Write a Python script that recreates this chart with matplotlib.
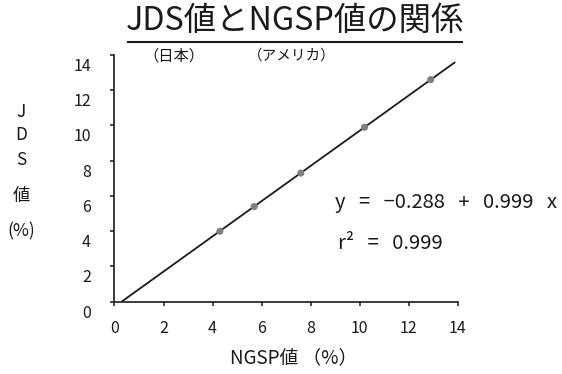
import matplotlib
matplotlib.use("Agg")
from matplotlib import pyplot as plt
from matplotlib.lines import Line2D
from matplotlib.transforms import ScaledTranslation

plt.rcParams["font.family"] = ["Noto Sans CJK JP", "DejaVu Sans"]

# NGSP (x) vs JDS (y), in %
ngsp = [4.3, 5.7, 7.6, 10.2, 12.9]
jds = [4.0, 5.4, 7.3, 9.9, 12.6]

# regression y = a + b x
intercept = -0.288
slope = 0.999
r2 = 0.999
fit_x_end = 13.9

ticks = [0, 2, 4, 6, 8, 10, 12, 14]
ink = "#1a1a1a"

fig = plt.figure(figsize=(5.62, 3.74), dpi=100)
ax = fig.add_axes([0.2037, 0.1933, 0.6107, 0.6597])

x0 = -intercept / slope
ax.plot([x0, fit_x_end], [intercept + slope * x0, intercept + slope * fit_x_end],
        color=ink, lw=1.3, solid_capstyle="butt", zorder=2)
ax.scatter(ngsp, jds, s=26, color="#808080", edgecolors="none", zorder=3)

ax.set_xlim(0, 14)
ax.set_ylim(0, 14)
ax.set_xticks(ticks)
ax.set_yticks(ticks)
ax.spines["top"].set_visible(False)
ax.spines["right"].set_visible(False)
for s in ("left", "bottom"):
    ax.spines[s].set_linewidth(1.2)
    ax.spines[s].set_color(ink)
ax.tick_params(axis="x", length=3, width=1.1, pad=10, labelsize=11.5, color=ink, labelcolor=ink)
ax.tick_params(axis="y", length=3, width=1.1, pad=14, labelsize=11.5, color=ink, labelcolor=ink)

# y tick labels sit a little below their ticks
shift = ScaledTranslation(0, -9.5 / 100, fig.dpi_scale_trans)
for lab in ax.get_yticklabels():
    lab.set_transform(lab.get_transform() + shift)

# title with underline
fig.text(295 / 562, 1 - 21 / 374, "JDS値とNGSP値の関係", ha="center", va="center",
         fontsize=23.3, color=ink)
fig.add_artist(Line2D([128 / 562, 462 / 562], [1 - 41.7 / 374] * 2,
                      transform=fig.transFigure, color=ink, lw=1.5))
fig.text(173.5 / 562, 1 - 56 / 374, "（日本）", ha="center", va="center", fontsize=11,
         color=ink)
fig.text(292 / 562, 1 - 56 / 374, "（アメリカ）", ha="center", va="center", fontsize=10.5,
         color=ink)

# axis labels
fig.text(294 / 562, 1 - 358 / 374, "NGSP値 （%）", ha="center", va="center", fontsize=13.5,
         color=ink)
for ch, yy in zip(["J", "D", "S", "値", "(%)"], [112, 135, 160, 196, 231]):
    fig.text(21 / 562, 1 - yy / 374, ch, ha="center", va="center", fontsize=12.5, color=ink)

# fitted equation
fig.text(335 / 562, 1 - 202 / 374, f"y   =   −0.288   +   {slope:.3f}   x", ha="left",
         va="center", fontsize=14.5, color=ink)
fig.text(338 / 562, 1 - 243 / 374, f"r²   =   {r2:.3f}", ha="left", va="center",
         fontsize=14.5, color=ink)

fig.savefig("out.png", dpi=100)
